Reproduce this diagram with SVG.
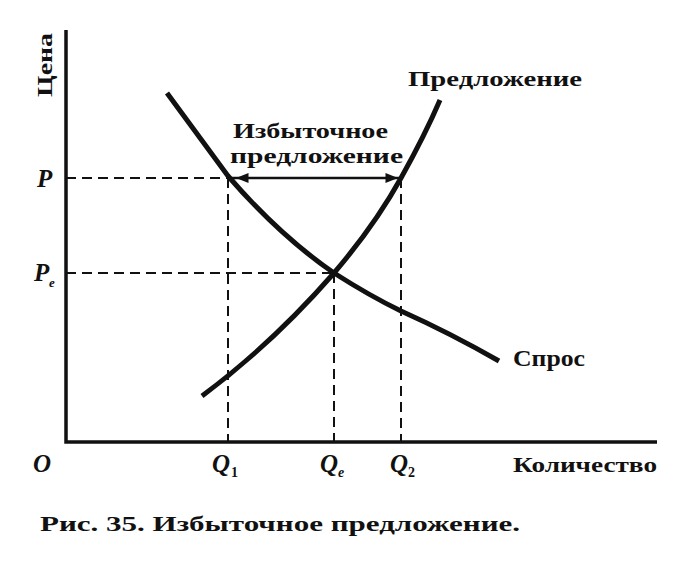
<svg xmlns="http://www.w3.org/2000/svg" width="691" height="573" viewBox="0 0 691 573">
<style>
.t{font-family:"Liberation Serif","DejaVu Serif",serif;font-weight:bold;fill:#111}
.i{font-family:"Liberation Serif","DejaVu Serif",serif;font-weight:bold;font-style:italic;fill:#111}
.ax{stroke:#111;stroke-width:3.5;fill:none}
.cv{stroke:#111;stroke-width:5;fill:none;stroke-linecap:butt}
.da{stroke:#111;stroke-width:2;fill:none;stroke-dasharray:10,6}
</style>
<defs>
<marker id="ah" viewBox="0 0 10 10" refX="10" refY="5" markerWidth="6" markerHeight="5" orient="auto-start-reverse" markerUnits="strokeWidth">
<path d="M0,1 L10,5 L0,9 Z" fill="#111"/>
</marker>
</defs>
<rect width="691" height="573" fill="#fff"/>
<g id="axes">
<path class="ax" d="M66,30 V442 H657"/>
</g>
<g id="connectors">
<path class="da" d="M66,178 H402"/>
<path class="da" d="M66,273 H334"/>
<path class="da" d="M228,178 V441"/>
<path class="da" d="M334,273 V441"/>
<path class="da" d="M401,178 V441"/>
<path d="M228,178 H399" stroke="#111" stroke-width="2.5" fill="none"/>
<path d="M236,178 H398" stroke="none" fill="none" marker-start="url(#ah)" marker-end="url(#ah)" stroke-width="2.5"/>
</g>
<g id="demand">
<path class="cv" d="M167,93 Q205,145 228,176 Q280,236 334,273 Q370,296 401,311 Q450,333 499,361"/>
<text class="t" x="513" y="366" font-size="23" textLength="72" lengthAdjust="spacingAndGlyphs">Спрос</text>
</g>
<g id="supply">
<path class="cv" d="M202,396 Q272,344 334,273 Q375,225 401,178 Q425,135 440,100"/>
<text class="t" x="408" y="86" font-size="21" textLength="174" lengthAdjust="spacingAndGlyphs">Предложение</text>
</g>
<g id="excess">
<text class="t" x="233" y="138" font-size="21" textLength="155" lengthAdjust="spacingAndGlyphs">Избыточное</text>
<text class="t" x="230" y="163" font-size="21" textLength="173" lengthAdjust="spacingAndGlyphs">предложение</text>
</g>
<g id="labels">
<text class="t" transform="translate(52,97) rotate(-90)" font-size="21" textLength="64" lengthAdjust="spacingAndGlyphs">Цена</text>
<text class="i" x="37" y="187" font-size="25">P</text>
<text class="i" x="34" y="281" font-size="25">P</text>
<text class="i" x="49" y="287" font-size="13">e</text>
<text class="i" x="33" y="472" font-size="25">O</text>
<text class="i" x="212" y="472" font-size="25">Q</text>
<text class="t" x="231" y="477" font-size="14">1</text>
<text class="i" x="320" y="472" font-size="25">Q</text>
<text class="i" x="338" y="477" font-size="14">e</text>
<text class="i" x="390" y="472" font-size="25">Q</text>
<text class="t" x="408" y="477" font-size="14">2</text>
<text class="t" x="513" y="472" font-size="22" textLength="144" lengthAdjust="spacingAndGlyphs">Количество</text>
</g>
<g id="caption">
<text class="t" x="40" y="531" font-size="21" textLength="480" lengthAdjust="spacingAndGlyphs">Рис. 35. Избыточное предложение.</text>
</g>
</svg>
